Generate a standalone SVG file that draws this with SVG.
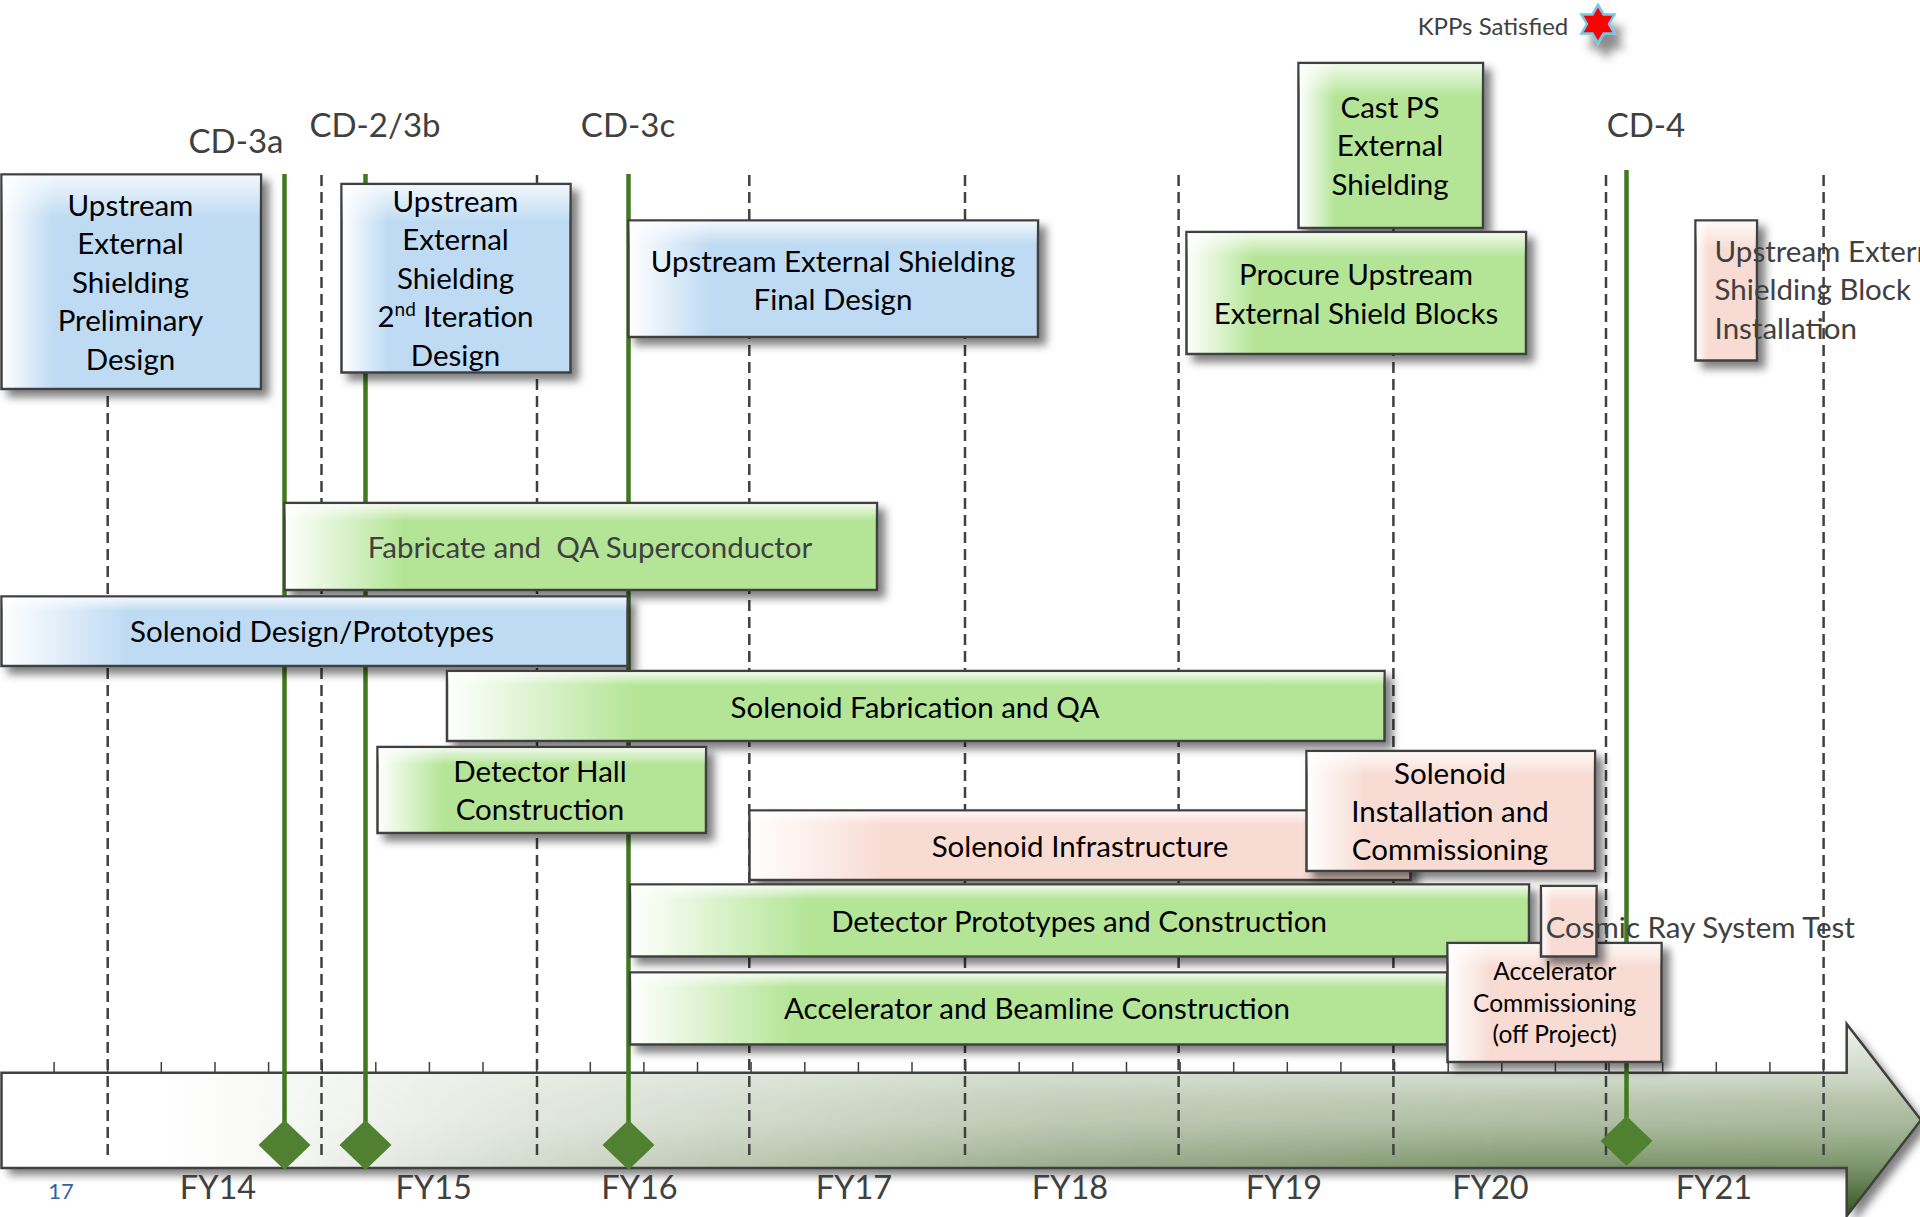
<svg xmlns="http://www.w3.org/2000/svg" width="1920" height="1217" viewBox="0 0 1920 1217">
<defs>
<style>
.bx{stroke:#404040;stroke-width:2.5}
.hl{fill:url(#hl);stroke:none}
.t{font-family:Lato,'Liberation Sans',sans-serif;font-size:29.5px;fill:#000;text-anchor:middle}
.ts{font-family:Lato,'Liberation Sans',sans-serif;font-size:24.5px;fill:#000;text-anchor:middle}
.tl{font-family:Lato,'Liberation Sans',sans-serif;font-size:29.5px;fill:#404040;text-anchor:start}
.g{fill:#404040}
.cd{font-family:Lato,'Liberation Sans',sans-serif;font-size:33px;fill:#404040;text-anchor:middle}
.fy{font-family:Lato,'Liberation Sans',sans-serif;font-size:32.5px;fill:#404040;text-anchor:middle}
.dash{stroke:#404040;stroke-width:2.5;stroke-dasharray:11 6;fill:none}
.ms{stroke:#40791f;stroke-width:4.5;fill:none}
.dia{fill:#4f8131}
.tick{stroke:#404040;stroke-width:1.5}
</style>
<filter id="sh" filterUnits="userSpaceOnUse" x="0" y="0" width="1920" height="1217">
<feDropShadow dx="7" dy="7" stdDeviation="4" flood-color="#000" flood-opacity="0.5"/>
</filter>
<filter id="shs" filterUnits="userSpaceOnUse" x="0" y="0" width="1920" height="1217">
<feDropShadow dx="8" dy="14" stdDeviation="5" flood-color="#000" flood-opacity="0.45"/>
</filter>
<linearGradient id="gB" x1="0" y1="0" x2="1" y2="0"><stop offset="0" stop-color="#fff"/><stop offset="0.2" stop-color="#bfdbf3"/><stop offset="1" stop-color="#bfdbf3"/></linearGradient>
<linearGradient id="gG" x1="0" y1="0" x2="1" y2="0"><stop offset="0" stop-color="#fff"/><stop offset="0.2" stop-color="#b4e597"/><stop offset="1" stop-color="#b4e597"/></linearGradient>
<linearGradient id="gP" x1="0" y1="0" x2="1" y2="0"><stop offset="0" stop-color="#fff"/><stop offset="0.2" stop-color="#f8dcd4"/><stop offset="1" stop-color="#f8dcd4"/></linearGradient>
<linearGradient id="hl" x1="0" y1="0" x2="0" y2="1"><stop offset="0" stop-color="#fff" stop-opacity="0.8"/><stop offset="0.2" stop-color="#fff" stop-opacity="0"/></linearGradient>
<linearGradient id="axH" gradientUnits="userSpaceOnUse" x1="0" y1="0" x2="1920" y2="0">
<stop offset="0.08" stop-color="#ffffff"/><stop offset="0.3" stop-color="#e4e9e0"/><stop offset="0.55" stop-color="#c9d3c1"/><stop offset="1" stop-color="#b8c6ad"/>
</linearGradient>
<linearGradient id="axV" gradientUnits="userSpaceOnUse" x1="0" y1="1023" x2="0" y2="1217">
<stop offset="0" stop-color="#ffffff" stop-opacity="0.8"/><stop offset="0.3" stop-color="#ffffff" stop-opacity="0.25"/><stop offset="0.5" stop-color="#5d7d48" stop-opacity="0.15"/><stop offset="0.75" stop-color="#4d6e38" stop-opacity="0.6"/><stop offset="1" stop-color="#2c4e16" stop-opacity="1"/>
</linearGradient>
<linearGradient id="axM" gradientUnits="userSpaceOnUse" x1="250" y1="0" x2="1500" y2="0"><stop offset="0" stop-color="#000"/><stop offset="1" stop-color="#fff"/></linearGradient>
<mask id="axMask" maskUnits="userSpaceOnUse" x="0" y="1000" width="1920" height="217"><rect x="0" y="1000" width="1920" height="217" fill="url(#axM)"/></mask>
</defs>
<rect x="0" y="0" width="1920" height="1217" fill="#fff"/>

<g id="axis">
<path d="M1.5,1072.7 H1846.7 V1024 L1921,1120 L1846.7,1216 V1168 H1.5 Z" fill="url(#axH)" filter="url(#sh)"/>
<path d="M1.5,1072.7 H1846.7 V1024 L1921,1120 L1846.7,1216 V1168 H1.5 Z" fill="url(#axV)" mask="url(#axMask)"/>
<path d="M1.5,1072.7 H1846.7 V1024 L1921,1120 L1846.7,1216 V1168 H1.5 Z" fill="none" stroke="#404040" stroke-width="2.5"/>
<g class="tick">
<line x1="54.1" y1="1062" x2="54.1" y2="1073"/><line x1="107.7" y1="1062" x2="107.7" y2="1073"/><line x1="161.3" y1="1062" x2="161.3" y2="1073"/><line x1="215" y1="1062" x2="215" y2="1073"/><line x1="268.6" y1="1062" x2="268.6" y2="1073"/><line x1="322.2" y1="1062" x2="322.2" y2="1073"/><line x1="375.8" y1="1062" x2="375.8" y2="1073"/><line x1="429.4" y1="1062" x2="429.4" y2="1073"/><line x1="483" y1="1062" x2="483" y2="1073"/><line x1="536.7" y1="1062" x2="536.7" y2="1073"/><line x1="590.3" y1="1062" x2="590.3" y2="1073"/><line x1="643.9" y1="1062" x2="643.9" y2="1073"/><line x1="697.5" y1="1062" x2="697.5" y2="1073"/><line x1="751.1" y1="1062" x2="751.1" y2="1073"/><line x1="804.8" y1="1062" x2="804.8" y2="1073"/><line x1="858.4" y1="1062" x2="858.4" y2="1073"/><line x1="912" y1="1062" x2="912" y2="1073"/><line x1="965.6" y1="1062" x2="965.6" y2="1073"/><line x1="1019.2" y1="1062" x2="1019.2" y2="1073"/><line x1="1072.8" y1="1062" x2="1072.8" y2="1073"/><line x1="1126.5" y1="1062" x2="1126.5" y2="1073"/><line x1="1180.1" y1="1062" x2="1180.1" y2="1073"/><line x1="1233.7" y1="1062" x2="1233.7" y2="1073"/><line x1="1287.3" y1="1062" x2="1287.3" y2="1073"/><line x1="1340.9" y1="1062" x2="1340.9" y2="1073"/><line x1="1394.6" y1="1062" x2="1394.6" y2="1073"/><line x1="1448.2" y1="1062" x2="1448.2" y2="1073"/><line x1="1501.8" y1="1062" x2="1501.8" y2="1073"/><line x1="1555.4" y1="1062" x2="1555.4" y2="1073"/><line x1="1609" y1="1062" x2="1609" y2="1073"/><line x1="1662.7" y1="1062" x2="1662.7" y2="1073"/><line x1="1716.3" y1="1062" x2="1716.3" y2="1073"/><line x1="1769.9" y1="1062" x2="1769.9" y2="1073"/><line x1="1823.5" y1="1062" x2="1823.5" y2="1073"/>
</g>
<text class="fy" x="218" y="1199">FY14</text>
<text class="fy" x="433.7" y="1199">FY15</text>
<text class="fy" x="639.5" y="1199">FY16</text>
<text class="fy" x="854" y="1199">FY17</text>
<text class="fy" x="1070" y="1199">FY18</text>
<text class="fy" x="1284" y="1199">FY19</text>
<text class="fy" x="1490.5" y="1199">FY20</text>
<text class="fy" x="1714" y="1199">FY21</text>
<text x="61" y="1199" font-family="Lato,'Liberation Sans',sans-serif" font-size="22" fill="#2f63a3" text-anchor="middle">17</text>
</g>

<g id="gridlines" class="dash">
<line x1="107.7" y1="175" x2="107.7" y2="1155"/>
<line x1="321.5" y1="175" x2="321.5" y2="1155"/>
<line x1="537" y1="175" x2="537" y2="1155"/>
<line x1="749.3" y1="175" x2="749.3" y2="1155"/>
<line x1="965" y1="175" x2="965" y2="1155"/>
<line x1="1178.6" y1="175" x2="1178.6" y2="1155"/>
<line x1="1393.4" y1="175" x2="1393.4" y2="1155"/>
<line x1="1606" y1="175" x2="1606" y2="1155"/>
<line x1="1823.6" y1="175" x2="1823.6" y2="1155"/>
</g>

<g id="connectors" class="ms">
<line x1="284.5" y1="174" x2="284.5" y2="1122"/>
<line x1="365.5" y1="174" x2="365.5" y2="1122"/>
<line x1="628.5" y1="174" x2="628.5" y2="1122"/>
<line x1="1626.5" y1="170" x2="1626.5" y2="1118"/>
</g>

<g id="milestones" class="dia">
<polygon points="284.5,1120 310.5,1145 284.5,1170 258.5,1145"/>
<polygon points="365.5,1120 391.5,1145 365.5,1170 339.5,1145"/>
<polygon points="628.5,1120 654.5,1145 628.5,1170 602.5,1145"/>
<polygon points="1626.5,1116 1652.5,1141 1626.5,1166 1600.5,1141"/>
</g>

<g id="labels">
<text class="cd" x="236" y="153">CD-3a</text>
<text class="cd" x="375" y="137">CD-2/3b</text>
<text class="cd" x="628" y="137">CD-3c</text>
<text class="cd" x="1646" y="137">CD-4</text>
<text x="1493" y="35" font-family="Lato,'Liberation Sans',sans-serif" font-size="24" fill="#404040" text-anchor="middle">KPPs Satisfied</text>
</g>

<g id="kpp-star">
<polygon points="1598,5 1603.49,14.5 1614.45,14.5 1608.97,24 1614.45,33.5 1603.49,33.5 1598,43 1592.51,33.5 1581.55,33.5 1587.03,24 1581.55,14.5 1592.51,14.5" fill="#ff0000" stroke="#6fc8e8" stroke-width="2.5" stroke-linejoin="miter" filter="url(#shs)"/>
</g>

<g id="us-prelim">
<rect class="bx" x="1.5" y="174.5" width="259.5" height="214.5" fill="url(#gB)" filter="url(#sh)"/>
<rect class="hl" x="2.5" y="175.5" width="257.5" height="212.5"/>
<text class="t"><tspan x="130.5" y="215.5">Upstream</tspan><tspan x="130.5" y="254">External</tspan><tspan x="130.5" y="292.5">Shielding</tspan><tspan x="130.5" y="331">Preliminary</tspan><tspan x="130.5" y="369.5">Design</tspan></text>
</g>

<g id="us-2nd">
<rect class="bx" x="341.5" y="184" width="229" height="188.5" fill="url(#gB)" filter="url(#sh)"/>
<rect class="hl" x="342.5" y="185" width="227" height="186.5"/>
<text class="t"><tspan x="455.5" y="211.7">Upstream</tspan><tspan x="455.5" y="250">External</tspan><tspan x="455.5" y="288.5">Shielding</tspan><tspan x="455.5" y="327">2<tspan font-size="19" dy="-11">nd</tspan><tspan dy="11"> Iteration</tspan></tspan><tspan x="455.5" y="365.5">Design</tspan></text>
</g>

<g id="us-final">
<rect class="bx" x="628.5" y="220.5" width="409.5" height="116.5" fill="url(#gB)" filter="url(#sh)"/>
<rect class="hl" x="629.5" y="221.5" width="407.5" height="114.5"/>
<text class="t"><tspan x="833" y="272">Upstream External Shielding</tspan><tspan x="833" y="310">Final Design</tspan></text>
</g>

<g id="cast-ps">
<rect class="bx" x="1298.5" y="63" width="184.5" height="165" fill="url(#gG)" filter="url(#sh)"/>
<rect class="hl" x="1299.5" y="64" width="182.5" height="163"/>
<text class="t"><tspan x="1390" y="117.5">Cast PS</tspan><tspan x="1390" y="156">External</tspan><tspan x="1390" y="194.5">Shielding</tspan></text>
</g>

<g id="procure">
<rect class="bx" x="1186.5" y="232" width="339.5" height="122" fill="url(#gG)" filter="url(#sh)"/>
<rect class="hl" x="1187.5" y="233" width="337.5" height="120"/>
<text class="t"><tspan x="1356" y="285">Procure Upstream</tspan><tspan x="1356" y="323.5">External Shield Blocks</tspan></text>
</g>

<g id="block-install">
<rect class="bx" x="1695.5" y="220.5" width="61.5" height="140" fill="url(#gP)" filter="url(#sh)"/>
<rect class="hl" x="1696.5" y="221.5" width="59.5" height="138"/>
<text class="tl"><tspan x="1714.6" y="261.5">Upstream External</tspan><tspan x="1714.6" y="300">Shielding Block</tspan><tspan x="1714.6" y="338.5">Installation</tspan></text>
</g>

<g id="fab-sc">
<rect class="bx" x="284.5" y="503" width="592.5" height="87" fill="url(#gG)" filter="url(#sh)"/>
<rect class="hl" x="285.5" y="504" width="590.5" height="85"/>
<text class="t g" x="590" y="558" xml:space="preserve">Fabricate and  QA Superconductor</text>
</g>

<g id="sol-design">
<rect class="bx" x="1.5" y="596.5" width="626" height="69.5" fill="url(#gB)" filter="url(#sh)"/>
<rect class="hl" x="2.5" y="597.5" width="624" height="67.5"/>
<text class="t" x="312" y="641.7">Solenoid Design/Prototypes</text>
</g>

<g id="sol-fab">
<rect class="bx" x="447" y="671" width="937.5" height="70" fill="url(#gG)" filter="url(#sh)"/>
<rect class="hl" x="448" y="672" width="935.5" height="68"/>
<text class="t" x="915" y="718">Solenoid Fabrication and QA</text>
</g>

<g id="det-hall">
<rect class="bx" x="377.5" y="747" width="328.5" height="86" fill="url(#gG)" filter="url(#sh)"/>
<rect class="hl" x="378.5" y="748" width="326.5" height="84"/>
<text class="t"><tspan x="540" y="781.7">Detector Hall</tspan><tspan x="540" y="820">Construction</tspan></text>
</g>

<g id="sol-infra">
<rect class="bx" x="749.5" y="810.5" width="661" height="69.5" fill="url(#gP)" filter="url(#sh)"/>
<rect class="hl" x="750.5" y="811.5" width="659" height="67.5"/>
<text class="t" x="1080" y="857">Solenoid Infrastructure</text>
</g>

<g id="sol-install">
<rect class="bx" x="1306.5" y="751" width="288.5" height="120" fill="url(#gP)" filter="url(#sh)"/>
<rect class="hl" x="1307.5" y="752" width="286.5" height="118"/>
<text class="t"><tspan x="1450" y="784">Solenoid</tspan><tspan x="1450" y="822">Installation and</tspan><tspan x="1450" y="860">Commissioning</tspan></text>
</g>

<g id="det-proto">
<rect class="bx" x="630" y="884.5" width="899" height="72" fill="url(#gG)" filter="url(#sh)"/>
<rect class="hl" x="631" y="885.5" width="897" height="70"/>
<text class="t" x="1079" y="932">Detector Prototypes and Construction</text>
</g>

<g id="acc-beam">
<rect class="bx" x="630" y="972.5" width="817" height="72" fill="url(#gG)" filter="url(#sh)"/>
<rect class="hl" x="631" y="973.5" width="815" height="70"/>
<text class="t" x="1037" y="1019">Accelerator and Beamline Construction</text>
</g>

<g id="acc-comm">
<rect class="bx" x="1447.5" y="943" width="214" height="119" fill="url(#gP)" filter="url(#sh)"/>
<rect class="hl" x="1448.5" y="944" width="212" height="117"/>
<text class="ts"><tspan x="1554.7" y="980">Accelerator</tspan><tspan x="1554.7" y="1012.3">Commissioning</tspan><tspan x="1554.7" y="1043.3">(off Project)</tspan></text>
</g>

<g id="cosmic">
<rect class="bx" x="1541" y="886" width="55.5" height="70.5" fill="url(#gP)" filter="url(#sh)"/>
<rect class="hl" x="1542" y="887" width="53.5" height="68.5"/>
<text class="tl" x="1545.7" y="938">Cosmic Ray System Test</text>
</g>
</svg>
